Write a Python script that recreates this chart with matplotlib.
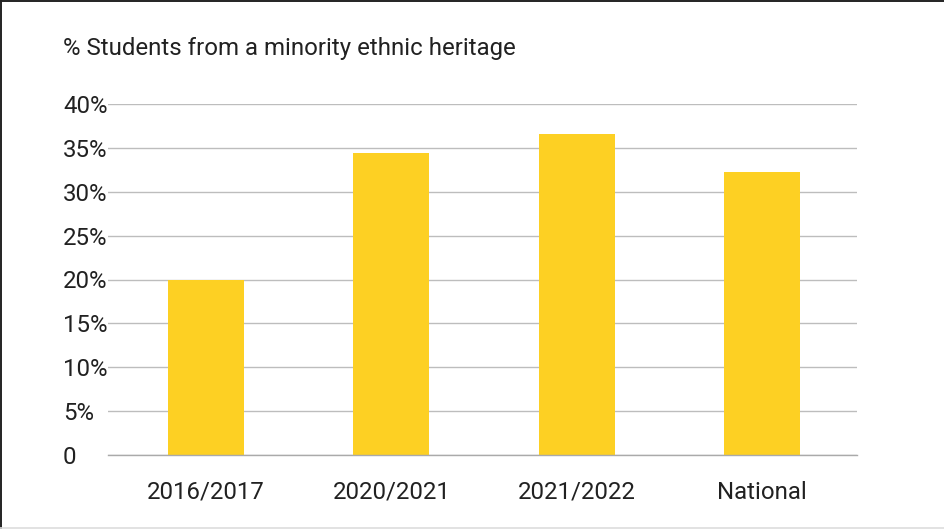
import matplotlib
matplotlib.use("Agg")
import matplotlib.pyplot as plt
from matplotlib.lines import Line2D

plt.rcParams["font.family"] = ["Roboto", "DejaVu Sans"]

# ---- data ------------------------------------------------------------------
years = ["2016/2017", "2020/2021", "2021/2022", "National"]
pct_minority = [20.0, 34.4, 36.6, 32.3]
y_ticks = [0, 5, 10, 15, 20, 25, 30, 35, 40]
y_tick_labels = ["0", "5%", "10%", "15%", "20%", "25%", "30%", "35%", "40%"]

BAR_COLOR = "#FDD023"
GRID_COLOR = "#BDBDBD"
TEXT_COLOR = "#212121"
FS = 17.3

fig = plt.figure(figsize=(9.45, 5.29), dpi=100)
ax = fig.add_axes([108 / 945, 1 - 455 / 529, 749 / 945, 351 / 529])

ax.bar(range(len(years)), pct_minority, width=0.41, color=BAR_COLOR, zorder=2)
ax.set_xlim(-0.529, 3.513)
ax.set_ylim(0, 40)

ax.set_yticks(y_ticks)
ax.set_yticklabels(y_tick_labels)
ax.set_xticks(range(len(years)))
ax.set_xticklabels(years)

ax.tick_params(axis="y", length=0, pad=32.4, labelsize=FS, labelcolor=TEXT_COLOR)
ax.tick_params(axis="x", length=0, pad=18.5, labelsize=FS, labelcolor=TEXT_COLOR)
for lbl in ax.get_yticklabels():
    lbl.set_horizontalalignment("left")

ax.grid(axis="y", color=GRID_COLOR, lw=1.0, zorder=0)
ax.set_axisbelow(True)
for side in ["top", "right", "left"]:
    ax.spines[side].set_visible(False)
ax.spines["bottom"].set_color("#AAAAAA")
ax.spines["bottom"].set_linewidth(1.0)

fig.text(63 / 945, 1 - 48 / 529, "% Students from a minority ethnic heritage",
         fontsize=FS, color=TEXT_COLOR, ha="left", va="center")

# frame edges: dark top and left, faint bottom
fig.add_artist(Line2D([0, 1], [0.998, 0.998], transform=fig.transFigure, color="#222222", lw=1.4))
fig.add_artist(Line2D([0.0008, 0.0008], [0, 1], transform=fig.transFigure, color="#222222", lw=1.4))
fig.add_artist(Line2D([0, 1], [0.002, 0.002], transform=fig.transFigure, color="#DDDDDD", lw=1.2))

fig.savefig("out.png", dpi=100)
